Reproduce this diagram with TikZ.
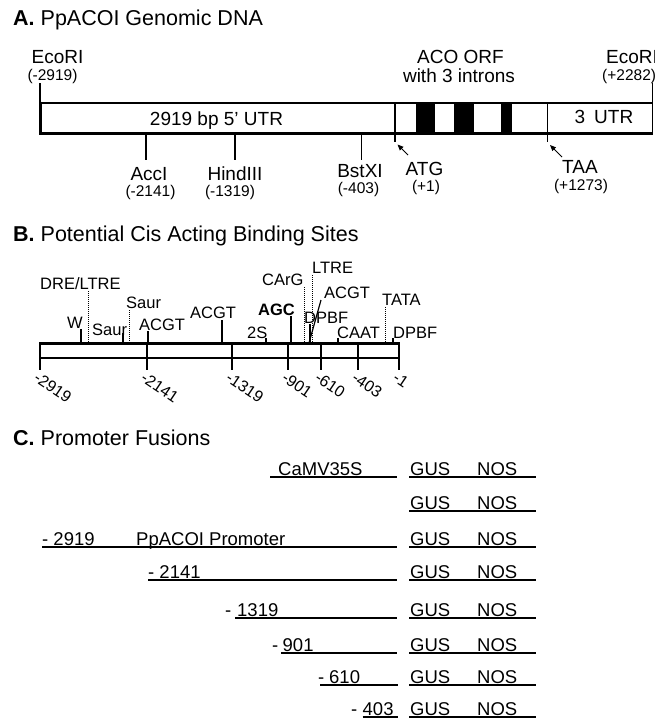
\documentclass[tikz,border=0pt]{standalone}
\usepackage{fontspec}
\setmainfont{Liberation Sans}
\usetikzlibrary{arrows.meta}
\begin{document}
\begin{tikzpicture}[x=1pt,y=-1pt,
  ttl/.style={inner sep=0, anchor=base west, font=\fontsize{21.5}{24}\selectfont},
  lab/.style={inner sep=0, anchor=base, font=\fontsize{19}{21}\selectfont},
  posl/.style={inner sep=0, anchor=base, font=\fontsize{15.5}{17}\selectfont},
  blab/.style={inner sep=0, anchor=base west, font=\fontsize{16.5}{18}\selectfont},
  rlab/.style={inner sep=0, anchor=north west, rotate=-34, font=\fontsize{16}{18}\selectfont},
  clab/.style={inner sep=0, anchor=base west, font=\fontsize{18.5}{20}\selectfont},
  tick/.style={line width=1.2pt},
  dotl/.style={densely dotted, line width=1pt},
  ul/.style={line width=2.4pt},
  arr/.style={line width=1pt, -{Triangle[length=6pt,width=5pt]}}
]
\useasboundingbox (0,0) rectangle (654,721);
% ---------------- A ----------------
\node[ttl] (tA) at (13,25) {\textbf{A.} PpACOI Genomic DNA};
\fill (416,103) rectangle (435,133);
\fill (454,103) rectangle (474,133);
\fill (501,103) rectangle (512,133);
\draw[line width=2pt] (39,103) -- (653,103);
\draw[line width=3pt] (39,133) -- (653,133);
\draw[line width=3pt] (40,101.5) -- (40,134.5);
\draw[tick] (40,83) -- (40,103);
\draw[line width=1.5pt] (652.5,83) -- (652.5,134.5);
\node[lab] (ecoL) at (57.5,63) {EcoRI};
\node[posl] (ecoLp) at (52.5,80) {(-2919)};
\node[lab] (utr5) at (216.5,125) {2919 bp 5' UTR};
\coordinate (accT) at (146,133); \coordinate (accB) at (146,160);
\draw[tick] (accT) -- (accB);
\node[lab] (acc) at (149,180) {AccI};
\node[posl] (accp) at (150.5,196) {(-2141)};
\coordinate (hinT) at (235,133); \coordinate (hinB) at (235,160);
\draw[tick] (hinT) -- (hinB);
\node[lab] (hin) at (235,180) {HindIII};
\node[posl] (hinp) at (230,196) {(-1319)};
\coordinate (bstT) at (361.5,133); \coordinate (bstB) at (361.5,160);
\draw[tick] (bstT) -- (bstB);
\node[lab] (bst) at (360,177) {BstXI};
\node[posl] (bstp) at (358.5,193) {(-403)};
\coordinate (atgT) at (395,103); \coordinate (atgB) at (395,142);
\draw[tick] (atgT) -- (atgB);
\node[lab] (atg) at (424.5,175) {ATG};
\node[posl] (atgp) at (426,191) {(+1)};
\coordinate (atgA) at (408,155); \coordinate (atgH) at (397.5,144.5);
\draw[arr] (atgA) -- (atgH);
\coordinate (taaT) at (547.7,103); \coordinate (taaB) at (547.7,142);
\draw[tick] (taaT) -- (taaB);
\node[lab] (taa) at (580,173) {TAA};
\node[posl] (taap) at (581,190) {(+1273)};
\coordinate (taaA) at (562,157); \coordinate (taaH) at (550,145);
\draw[arr] (taaA) -- (taaH);
\node[lab] (orf) at (460.5,63) {ACO ORF};
\node[lab] (intr) at (459,82) {with 3 introns};
\node[lab] (utr3) at (604,123) {3\hspace{9pt}UTR};
\node[lab, anchor=base west] (ecoR) at (606,63) {EcoRI};
\node[posl, anchor=base west] (ecoRp) at (602,80) {(+2282)};
% ---------------- B ----------------
\node[ttl] (tB) at (13,241) {\textbf{B.} Potential Cis Acting Binding Sites};
\draw[line width=2.2pt] (39.4,343.5) -- (399.6,343.5);
\draw[line width=1.2pt] (40,358) -- (399,358);
\foreach \x/\t in {40/-2919,147/-2141,232/-1319,288/-901,321/-610,358/-403,399/-1}{
  \draw[tick] (\x,343) -- (\x,370);
  \node[rlab] (r\t) at (\x-1,371) {\t};
}
\node[blab] (bDRE) at (40,289) {DRE/LTRE};
\node[blab] (bW) at (67,328) {W};
\node[blab] (bSa1) at (92,335) {Saur};
\node[blab] (bSa2) at (126,308) {Saur};
\node[blab] (bAC1) at (139,330) {ACGT};
\node[blab] (bAC2) at (190,318) {ACGT};
\node[blab] (bAGC) at (258,315) {\textbf{AGC}};
\node[blab] (b2S) at (247,338) {2S};
\node[blab] (bCArG) at (262,285) {CArG};
\node[blab] (bLTRE) at (312,273) {LTRE};
\node[blab] (bAC3) at (324,298) {ACGT};
\node[blab] (bDP1) at (304,323) {DPBF};
\node[blab] (bCAAT) at (337,338) {CAAT};
\node[blab] (bTATA) at (382,305) {TATA};
\node[blab] (bDP2) at (393,338) {DPBF};
\draw[dotl] (88,291) -- (88,343);
\draw[dotl] (129,310) -- (129,343);
\draw[dotl] (304,287) -- (304,343);
\draw[dotl] (312,275) -- (312,343);
\draw[dotl] (385,307) -- (385,343);
\draw[tick] (81,329) -- (81,343);
\draw[tick] (123,333) -- (123,343);
\draw[tick] (148,331) -- (148,343);
\draw[tick] (222,320) -- (222,343);
\draw[tick] (291,316) -- (291,343);
\draw[tick] (266,338) -- (266,343);
\draw[tick] (310,324) -- (310,343);
\draw[tick] (338,338) -- (338,343);
\draw[tick] (393,338) -- (393,343);
\draw[tick] (321,300) -- (309,343);
% ---------------- C ----------------
\node[ttl] (tC) at (13,445) {\textbf{C.} Promoter Fusions};
\foreach \y/\n in {477/1,511/2,547/3,580/4,618/5,653/6,685/7,717/8}{
  \node[clab] (gus\n) at (410,\y-2) {GUS};
  \node[clab] (nos\n) at (477,\y-2) {NOS};
  \draw[ul] (409,\y) -- (536,\y);
}
\draw[ul] (270,477) -- (397,477);
\node[clab] (camv) at (278,475) {CaMV35S};
\draw[ul] (42,547) -- (397,547);
\node[clab] (p2919) at (42,545) {- 2919};
\node[clab] (prom) at (136,545) {PpACOI Promoter};
\draw[ul] (148,580) -- (397,580);
\node[clab] (p2141) at (148,578) {- 2141};
\node[clab] (d1319) at (225,616) {-};
\node[clab] (p1319) at (237,616) {1319};
\draw[ul] (235,618) -- (397,618);
\node[clab] (d901) at (272,651) {-};
\node[clab] (p901) at (282.5,651) {901};
\draw[ul] (281,653) -- (397,653);
\node[clab] (d610) at (318,683) {-};
\node[clab] (p610) at (329,683) {610};
\draw[ul] (320,685) -- (398,685);
\node[clab] (d403) at (351,715) {-};
\node[clab] (p403) at (362.5,715) {403};
\draw[ul] (362.5,717) -- (398,717);
\end{tikzpicture}
\end{document}
